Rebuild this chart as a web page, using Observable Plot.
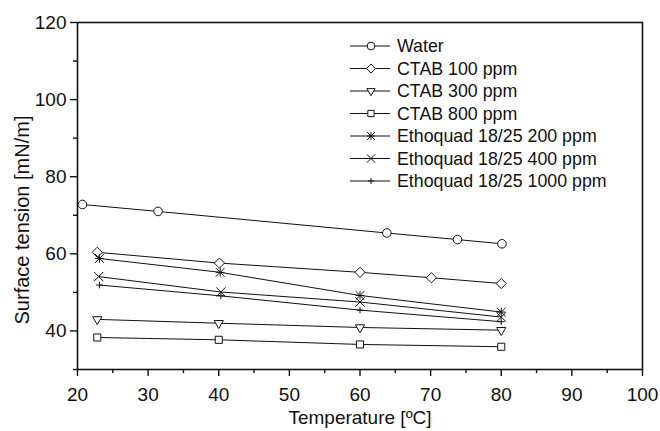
<!DOCTYPE html>
<html><head><meta charset="utf-8">
<script src="https://cdn.jsdelivr.net/npm/d3@7"></script>
<script src="https://cdn.jsdelivr.net/npm/@observablehq/plot@0.6"></script>
<style>body{margin:0;background:#fff}#chart{width:660px;height:431px}</style>
</head><body><div id="chart"></div>
<script>
// ---- data ----
const seriesNames = ["Water","CTAB 100 ppm","CTAB 300 ppm","CTAB 800 ppm","Ethoquad 18/25 200 ppm","Ethoquad 18/25 400 ppm","Ethoquad 18/25 1000 ppm"];
const waterT = [20.7, 31.4, 63.8, 73.8, 80.1];
const waterST = [72.8, 71.0, 65.4, 63.7, 62.6];
const ctab100T = [22.8, 40.1, 60.0, 70.1, 80.0];
const ctab100ST = [60.4, 57.6, 55.2, 53.8, 52.3];
const ctab300T = [22.8, 40.0, 60.0, 80.0];
const ctab300ST = [43.0, 42.0, 40.9, 40.2];
const ctab800T = [22.8, 40.0, 60.0, 80.0];
const ctab800ST = [38.3, 37.7, 36.5, 35.9];
const eth200T = [23.1, 40.2, 60.0, 80.0];
const eth200ST = [58.8, 55.2, 49.2, 44.9];
const eth400T = [23.0, 40.3, 60.0, 80.0];
const eth400ST = [54.1, 50.1, 47.5, 43.6];
const eth1000T = [23.1, 40.3, 60.0, 80.0];
const eth1000ST = [51.9, 49.1, 45.4, 42.4];
const xTicks = [20, 30, 40, 50, 60, 70, 80, 90, 100];
const xMinorTicks = [25, 35, 45, 55, 65, 75, 85, 95];
const yTicks = [40, 60, 80, 100, 120];
const yMinorTicks = [30, 50, 70, 90, 110];
const xTitle = "Temperature [ºC]";
const yTitle = "Surface tension [mN/m]";

const temps = [waterT, ctab100T, ctab300T, ctab800T, eth200T, eth400T, eth1000T];
const values = [waterST, ctab100ST, ctab300ST, ctab800ST, eth200ST, eth400ST, eth1000ST];

// ---- styles ----
const ink = "#111";
const FONT = "'Liberation Sans', Arial, Helvetica, sans-serif";
// each marker: list of [symbol, r, rotate, fill]
const markers = [
  [["circle", 4.3, 0, "white"]],
  [["diamond2", 4.6, 0, "white"]],
  [["triangle2", 4.4, 180, "white"]],
  [["square2", 4.5, 0, "white"]],
  [["times", 4.1, 0, "none"], ["plus", 2.9, 0, "none"]],
  [["times", 4.3, 0, "none"]],
  [["plus", 2.3, 0, "none"]]
];

const rows = seriesNames.flatMap((s, i) => temps[i].map((t, j) => ({series: s, t, v: values[i][j]})));

const marks = [
  Plot.frame({stroke: ink, strokeWidth: 1.6}),
  Plot.axisX({ticks: xTicks, tickSize: 7, tickPadding: 11, fontSize: 19, label: null, stroke: ink, strokeWidth: 1.4}),
  Plot.axisX({ticks: xMinorTicks, tickSize: 4, text: null, label: null, stroke: ink, strokeWidth: 1.4}),
  Plot.axisY({ticks: yTicks, tickSize: 7, tickPadding: 4, fontSize: 19, label: null, stroke: ink, strokeWidth: 1.4}),
  Plot.axisY({ticks: yMinorTicks, tickSize: 4, text: null, label: null, stroke: ink, strokeWidth: 1.4}),
  Plot.text([xTitle], {frameAnchor: "bottom", dy: 48, textAnchor: "middle", lineAnchor: "middle", fontSize: 19, fill: ink}),
  Plot.text([yTitle], {frameAnchor: "left", dx: -55, dy: 24, rotate: -90, textAnchor: "middle", lineAnchor: "middle", fontSize: 20, fill: ink}),
  Plot.line(rows, {x: "t", y: "v", z: "series", stroke: ink, strokeWidth: 1})
];
seriesNames.forEach((s, i) => {
  const data = rows.filter(d => d.series === s);
  markers[i].forEach(([sym, r, rot, fill]) => {
    marks.push(Plot.dot(data, {x: "t", y: "v", symbol: sym, r, rotate: rot, fill, stroke: ink, strokeWidth: 1}));
  });
});

const chart = Plot.plot({
  width: 660, height: 431,
  marginLeft: 77, marginRight: 18, marginTop: 22, marginBottom: 62,
  x: {domain: [20, 100]},
  y: {domain: [30, 120]},
  style: {fontFamily: FONT, color: ink, background: "white", overflow: "visible"},
  marks
});
document.getElementById("chart").appendChild(chart);

// ---- legend inside the plot area ----
const symMap = {circle: d3.symbolCircle, diamond2: d3.symbolDiamond2, triangle2: d3.symbolTriangle2, square2: d3.symbolSquare2, times: d3.symbolTimes, plus: d3.symbolPlus};
const lg = d3.select(chart).append("g").attr("font-family", FONT).attr("font-size", 17.8).attr("fill", ink).attr("text-anchor", "start");
const lx0 = 350, lx1 = 390, lmx = 371, ltx = 397, ly0 = 46, ldy = 22.5;
seriesNames.forEach((s, i) => {
  const y = ly0 + i * ldy;
  lg.append("line").attr("x1", lx0).attr("x2", lx1).attr("y1", y).attr("y2", y).attr("stroke", ink).attr("stroke-width", 1);
  markers[i].forEach(([sym, r, rot, fill]) => {
    lg.append("path")
      .attr("d", d3.symbol(symMap[sym], Math.PI * r * r * 0.8)())
      .attr("transform", `translate(${lmx},${y}) rotate(${rot})`)
      .attr("fill", fill).attr("stroke", ink).attr("stroke-width", 1);
  });
  lg.append("text").attr("x", ltx).attr("y", y).attr("dy", "0.35em").attr("text-anchor", "start").text(s);
});
</script>
</body></html>
